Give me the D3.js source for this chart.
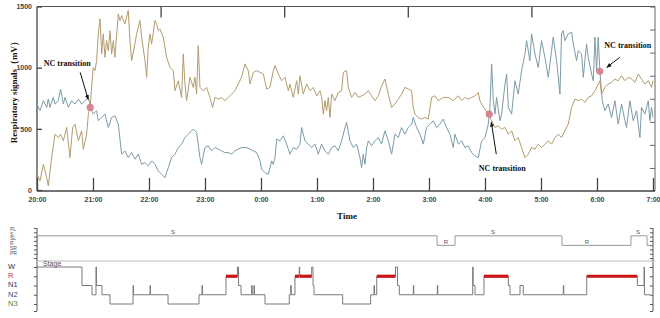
<!DOCTYPE html>
<html>
<head>
<meta charset="utf-8">
<script src="https://cdn.jsdelivr.net/npm/d3@7"></script>
<style>
  body { margin: 0; background: #fff; }
  svg { display: block; }
</style>
</head>
<body>
<div id="vis"></div>
<script>
////////// data //////////
// minutes after 20:00 and signal (mV)
var blueTime = [0,3.2,6.8,10.4,12.1,13.9,17.5,19.3,22.8,25.3,28.2,30,33.6,37.1,40.7,44.3,47.8,51.4,55,57.5,60.3,63.9,65.7,69.3,72.8,76.4,80,83.5,87.1,90.7,94.2,97.8,101.4,105,108.5,112.1,115.7,119.2,122.8,126.4,129.9,133.5,137.1,140.7,144.2,147.8,151.4,154.9,158.5,162.1,167.4,171,174.6,176.4,179.9,183.5,187.1,190.6,194.2,197.8,201.3,204.9,208.5,212.1,215.6,219.2,224.6,228.2,231.8,235.4,238.9,240.7,244.3,247.9,249.6,251.4,253.2,255,256.8,260.3,263.9,267.5,271,274.6,278.2,281.8,283.5,287.1,290.7,294.3,297.8,301.4,305,308.5,312.1,315.7,319.2,322.8,326.4,330,331.7,335.3,338.9,342.5,346,347.8,349.6,351.4,353.2,355,358.5,362.1,365.7,369.2,372.8,376.4,380,383.5,387.1,390.6,394.2,397.8,401.4,403.1,406.7,410.3,413.9,417.4,421,424.6,428.1,431.7,435.3,438.8,442.4,446,447.8,451.4,455,458.5,462.1,465.7,469.2,472.8,476.4,480,483.5,485.3,487.1,488.9,490.7,492.4,496,497.8,501.4,503.2,505,508.5,512.1,515.6,519.2,522.8,524.6,528.1,529.9,533.5,537,540.6,544.2,547.8,551.3,553.1,556.7,560.3,562,563.8,565.6,569.2,572.8,574.6,578.1,579.9,583.5,585.3,588.8,590.6,594.2,596,597.8,599.5,601.3,603.1,605.6,608.5,612,615.6,619.2,622.7,626.3,629.9,631.7,635.2,638.8,642.4,646,647.7,651.3,654.9,656.7,658.4,660];
var blueVal = [702,648,730,675,743,675,757,702,730,825,702,757,675,730,702,743,702,730,757,675,620,648,566,593,620,511,593,607,538,293,320,265,306,252,293,210,224,197,238,210,156,128,101,183,265,293,347,375,429,456,497,470,265,210,347,361,320,347,334,320,306,306,293,320,334,347,347,334,320,306,238,170,142,128,183,238,210,265,415,402,443,375,293,347,334,375,511,402,375,347,375,293,375,320,293,347,361,320,402,511,552,402,347,375,265,183,293,210,347,402,361,402,429,375,484,402,293,456,429,511,456,511,538,593,511,456,375,511,538,566,511,538,580,511,456,347,456,375,402,347,361,306,279,265,402,429,538,675,1030,730,620,757,566,620,866,948,675,620,893,784,975,1112,1221,1057,1276,1112,1002,1221,1085,921,1139,1249,1057,784,1276,1303,1221,1276,1290,1194,1057,1139,1112,921,1194,1085,948,893,1249,975,1249,970,730,648,702,593,730,538,702,566,511,730,566,648,429,675,620,730,566,675,593];

var tanTime = [0,3.2,6.8,10.4,12.1,15.7,19.3,22.8,25.3,28.2,31.8,35.3,38.2,40.7,44.3,47.8,49.6,53.2,55,57,58.5,60.3,62.1,63.9,65.7,67.5,69.3,71,72.8,74.6,76.4,78.2,80,81.8,83.5,87.1,88.9,90.7,94.2,97.8,99.6,101.4,104.9,106.7,110.3,112.1,115.7,117.5,119.2,121,122.8,126.4,128.2,129.9,131.7,135.3,138.9,142.4,146,147.8,151.4,154.9,156.7,158.5,160.3,163.9,167.4,169.2,171,172.8,174.6,178.1,181.7,185.3,188.1,190.6,194.2,197.8,201.3,204.9,208.5,212.1,215.6,219.2,222.8,226.4,228.2,231.8,235.4,238.9,242.5,246.1,249.6,253.2,255,258.6,262.1,265.7,269.3,271,274.6,278.2,280,281.8,285.3,288.9,292.5,296.1,299.6,303.2,305,306.8,308.5,310.3,312.1,313.9,315.7,319.2,322.8,326.4,328.2,331.7,333.5,337.1,340.7,344.2,347.8,351.4,355,358.5,362.1,365.7,369.2,372.8,376.4,379.9,383.5,387.1,390.6,394.2,397.8,401.4,403.1,404.9,408.5,412.1,415.6,419.2,422.8,426.3,429.9,435.3,440.6,446,451.4,455,458.5,462.1,465.7,469.2,472.8,474.6,476.4,480,483.5,487.1,490.7,494.2,497.8,501.4,505,508.5,512.1,515.6,519.2,522.8,526.3,529.9,533.5,537,540.6,544.2,547.8,551.3,554.9,558.5,562,565.6,569.2,572.8,576.3,579.9,583.5,587,590.6,594.2,597.8,601.3,603.1,604.9,608.5,612,615.6,619.2,622.7,626.3,629.9,633.4,637,640.6,644.2,647.7,651.3,654.9,658.4,660];
var tanVal = [128,74,210,101,33,265,456,429,456,402,511,265,511,538,402,484,333,456,620,675,839,1002,975,1057,1276,1399,1112,1276,1085,1221,1139,1303,1112,1221,1085,1440,1385,1426,1358,1467,1221,1057,1194,1276,1385,1249,1057,921,1167,1276,1194,1385,1358,1303,1317,1249,1085,1002,975,811,893,757,1112,866,730,921,839,921,784,1180,839,811,839,757,675,757,743,757,730,757,784,811,866,921,1030,975,866,962,975,962,948,825,839,975,1016,948,893,921,811,866,757,893,784,934,784,866,811,839,770,811,757,620,730,648,757,593,784,730,798,811,962,975,839,757,798,757,770,784,811,770,730,770,852,907,784,675,702,743,784,839,825,811,675,620,593,580,593,580,757,770,730,757,757,730,770,730,757,743,757,770,798,730,702,661,620,566,511,525,497,511,456,484,402,429,347,265,293,347,334,375,347,375,402,375,429,456,429,484,538,675,743,730,743,716,757,770,811,866,893,784,839,866,880,907,893,934,893,921,907,880,948,907,866,893,839,893];

var ncTime = [57, 484.6, 603];
var ncVal = [675, 620, 970];
var yTicks = [0, 500, 1000, 1500];

// hypnogram
var stateNames = ["PL", "S", "SL", "R", "SR", "PR"];
var stateTime = [0, 0.6, 428.6, 447.9, 562.5, 636.4, 653.6, 656.8];
var stateVal = ["PR", "S", "R", "S", "R", "S", "R", "R"];
var stateLabelTime = [145.7, 438.2, 488.6, 589.3, 644];
var stateLabelText = ["S", "R", "S", "R", "S"];

var stageNames = ["W", "R", "N1", "N2", "N3"];
var stageTime = [0,48.2,58.9,63.2,63.7,69.6,78.2,102.9,103.4,121.1,121.6,140.4,173.6,176.8,177.3,202.5,214.8,215.9,218.6,230,230.6,232.5,233,244.3,270.3,271.8,272.4,276.4,281,281.5,294.3,295.7,296.8,327.5,357.5,361.1,361.6,364,384.1,386.3,388.2,403.2,403.7,428.9,429.4,466.8,467.3,469.3,478.9,505,506.8,517.5,521,563.9,564.4,589,643.2,650.4,650.9,656.8];
var stageVal = ["W","N1","N2","W","N1","N2","N3","N1","N2","N1","N2","N3","N2","N1","N2","R","W","N1","N2","N1","N2","N1","N2","N3","N2","N1","N2","R","W","R","W","N1","N2","N3","N2","N1","N2","R","W","N1","N2","N1","N2","N1","N2","W","N1","N2","R","N1","N2","N1","N2","N1","N2","R","N1","W","N2","N2"];
var stageColor = { W: "#333", R: "#b8324a", N1: "#1f2f6e", N2: "#2c4a9a", N3: "#3f8a3f" };

////////// setup //////////
var width = 660, height = 318;
var svg = d3.select("#vis").append("svg")
  .attr("width", width)
  .attr("height", height)
  .style("font-family", "'Liberation Sans', Arial, sans-serif");

var t0 = new Date(2020, 0, 1, 20, 0);
var toDate = function(m) { return new Date(+t0 + m * 60000); };

var x = d3.scaleTime()
  .domain([t0, toDate(660)])
  .range([37, 653]);
var y = d3.scaleLinear()
  .domain([0, 1500])
  .range([190, 6.5]);

var plotTop = 6.5, plotBottom = 191, plotRight = 655;

////////// top chart //////////
var chart = svg.append("g");

// frame
chart.append("line")
  .attr("x1", 37).attr("x2", plotRight).attr("y1", plotTop).attr("y2", plotTop)
  .attr("stroke", "#555").attr("stroke-width", 1.2);
chart.append("line")
  .attr("x1", plotRight).attr("x2", plotRight).attr("y1", plotTop).attr("y2", plotBottom)
  .attr("stroke", "#666").attr("stroke-width", 1);

var xAxis = chart.append("g")
  .attr("transform", "translate(0," + plotBottom + ")")
  .call(d3.axisBottom(x)
    .ticks(d3.timeHour.every(1))
    .tickFormat(d3.timeFormat("%-H:%M"))
    .tickSizeInner(-13)
    .tickSizeOuter(0)
    .tickPadding(6));
xAxis.select(".domain").attr("stroke", "#444").attr("stroke-width", 1.5)
  .attr("d", "M37,0H" + plotRight);
xAxis.selectAll(".tick line").attr("stroke", "#444").attr("stroke-width", 1.3);
xAxis.selectAll(".tick text")
  .style("font-size", "7px").style("font-weight", "bold").attr("fill", "#444");

var yAxis = chart.append("g")
  .attr("transform", "translate(37,0)")
  .call(d3.axisLeft(y)
    .tickValues(yTicks)
    .tickFormat(d3.format("d"))
    .tickSizeInner(-5)
    .tickSizeOuter(0)
    .tickPadding(5));
yAxis.select(".domain").attr("stroke", "#444").attr("stroke-width", 1.3)
  .attr("d", "M0," + plotTop + "V" + plotBottom);
yAxis.selectAll(".tick line").attr("stroke", "#444").attr("stroke-width", 1.3);
yAxis.selectAll(".tick text")
  .style("font-size", "7px").style("font-weight", "bold").attr("fill", "#444");

// unlabelled secondary ticks on top and right
var xTop = d3.scaleLinear().domain([0, 5]).range([37, plotRight]);
chart.append("g")
  .attr("transform", "translate(0," + plotTop + ")")
  .call(d3.axisTop(xTop).ticks(5).tickSizeInner(-11).tickSizeOuter(0).tickFormat(""))
  .call(function(g) {
    g.select(".domain").remove();
    g.selectAll(".tick line").attr("stroke", "#444").attr("stroke-width", 1.3);
    g.selectAll(".tick").filter(function(d) { return d == 0 || d == 5; }).remove();
  });
var yRight = d3.scaleLinear().domain([0, 8]).range([plotBottom, plotTop]);
chart.append("g")
  .attr("transform", "translate(" + plotRight + ",0)")
  .call(d3.axisRight(yRight).ticks(8).tickSizeInner(-5).tickSizeOuter(0).tickFormat(""))
  .call(function(g) {
    g.select(".domain").remove();
    g.selectAll(".tick line").attr("stroke", "#666");
  });

// signals
var line = d3.line()
  .x(function(d) { return x(toDate(d[0])); })
  .y(function(d) { return y(d[1]); });

var tanData = tanTime.map(function(t, i) { return [t, tanVal[i]]; });
var blueData = blueTime.map(function(t, i) { return [t, blueVal[i]]; });

chart.append("path")
  .datum(blueData)
  .attr("d", line)
  .attr("fill", "none")
  .attr("stroke", "#7b9ba8")
  .attr("stroke-width", 1)
  .attr("stroke-linejoin", "round");
chart.append("path")
  .datum(tanData)
  .attr("d", line)
  .attr("fill", "none")
  .attr("stroke", "#b39c6e")
  .attr("stroke-width", 1)
  .attr("stroke-linejoin", "round");

// NC transitions
var defs = svg.append("defs");
defs.append("marker")
  .attr("id", "arrow")
  .attr("viewBox", "0 0 10 10")
  .attr("refX", 9).attr("refY", 5)
  .attr("markerWidth", 5).attr("markerHeight", 5)
  .attr("orient", "auto")
  .append("path")
  .attr("d", "M0,1L10,5L0,9Z")
  .attr("fill", "#111");

// text / arrow offsets relative to each marker
var ncNotes = [
  { tx: -23, ty: -43, ax1: -10, ay1: -35, ax2: -2, ay2: -8 },
  { tx: 13, ty: 55, ax1: 7, ay1: 40, ax2: 2, ay2: 8 },
  { tx: 28, ty: -25, ax1: 20, ay1: -14, ax2: 7, ay2: -4 }
];

ncTime.forEach(function(t, i) {
  var cx = x(toDate(t)), cy = y(ncVal[i]), n = ncNotes[i];
  chart.append("circle")
    .attr("cx", cx).attr("cy", cy).attr("r", 3.6)
    .attr("fill", "#d97a8a").attr("opacity", 0.9);
  chart.append("line")
    .attr("x1", cx + n.ax1).attr("y1", cy + n.ay1)
    .attr("x2", cx + n.ax2).attr("y2", cy + n.ay2)
    .attr("stroke", "#111").attr("stroke-width", 1)
    .attr("marker-end", "url(#arrow)");
  chart.append("text")
    .attr("x", cx + n.tx).attr("y", cy + n.ty)
    .attr("text-anchor", "middle")
    .attr("dominant-baseline", "middle")
    .style("font-family", "'Liberation Serif', 'Times New Roman', serif")
    .style("font-weight", "bold")
    .style("font-size", "8px")
    .attr("fill", "#111")
    .text("NC transition");
});

// axis titles
chart.append("text")
  .attr("transform", "translate(15,90) rotate(-90)")
  .attr("text-anchor", "middle")
  .attr("dominant-baseline", "middle")
  .style("font-family", "'Liberation Serif', 'Times New Roman', serif")
  .style("font-weight", "bold")
  .style("font-size", "9px")
  .attr("fill", "#111")
  .text("Respiratory signals（mV）");
chart.append("text")
  .attr("x", 347).attr("y", 219)
  .attr("text-anchor", "middle")
  .style("font-family", "'Liberation Serif', 'Times New Roman', serif")
  .style("font-weight", "bold")
  .style("font-size", "9px")
  .attr("fill", "#111")
  .text("Time");

////////// hypnogram //////////
var hyp = svg.append("g");
var yState = d3.scalePoint().domain(stateNames).range([231, 255]);
var yStage = d3.scalePoint().domain(stageNames).range([267, 304]);

// side axes
[37, 653].forEach(function(ax, k) {
  hyp.append("line")
    .attr("x1", ax).attr("x2", ax).attr("y1", 228).attr("y2", 311)
    .attr("stroke", "#555").attr("stroke-width", 1);
  var mk = k == 0 ? d3.axisLeft : d3.axisRight;
  var sz = k == 0 ? 3 : -3;
  var ticks = d3.range(228, 260, 4.3).concat(stageNames.map(yStage)).concat([311]);
  hyp.append("g")
    .attr("transform", "translate(" + ax + ",0)")
    .call(mk(d3.scaleIdentity()).tickValues(ticks).tickSizeInner(sz).tickSizeOuter(0).tickFormat(""))
    .call(function(g) {
      g.select(".domain").remove();
      g.selectAll(".tick line").attr("stroke", "#555");
    });
});

// divider between state and stage rows
hyp.append("line")
  .attr("x1", 37).attr("x2", 655).attr("y1", 261).attr("y2", 261)
  .attr("stroke", "#bbb").attr("stroke-width", 1);

// state labels
hyp.selectAll(".state-lab")
  .data(stateNames)
  .enter().append("text")
  .attr("class", "state-lab")
  .attr("x", 10).attr("y", function(d) { return yState(d) - 1.5; })
  .attr("dominant-baseline", "middle")
  .style("font-size", "5px")
  .attr("fill", "#555")
  .text(function(d) { return d; });

hyp.selectAll(".stage-lab")
  .data(stageNames)
  .enter().append("text")
  .attr("class", "stage-lab")
  .attr("x", 8).attr("y", function(d) { return yStage(d); })
  .attr("dominant-baseline", "middle")
  .style("font-size", "7.5px")
  .attr("fill", function(d) { return stageColor[d]; })
  .text(function(d) { return d; });

var stateLine = d3.line()
  .x(function(d) { return x(toDate(d[0])); })
  .y(function(d) { return yState(d[1]); })
  .curve(d3.curveStepAfter);
hyp.append("path")
  .datum(stateTime.map(function(t, i) { return [t, stateVal[i]]; }))
  .attr("d", stateLine)
  .attr("fill", "none")
  .attr("stroke", "#999")
  .attr("stroke-width", 1);

hyp.selectAll(".state-note")
  .data(stateLabelTime)
  .enter().append("text")
  .attr("class", "state-note")
  .attr("x", function(d) { return x(toDate(d)); })
  .attr("y", function(d, i) { return yState(stateLabelText[i]) - 1.5; })
  .attr("text-anchor", "middle")
  .style("font-size", "6px")
  .attr("fill", "#555")
  .text(function(d, i) { return stateLabelText[i]; });

hyp.append("text")
  .attr("x", 43).attr("y", 266)
  .style("font-size", "7px")
  .attr("fill", "#555")
  .text("Stage");

var stageLine = d3.line()
  .x(function(d) { return x(toDate(d[0])); })
  .y(function(d) { return yStage(d[1]); })
  .curve(d3.curveStepAfter);
hyp.append("path")
  .datum(stageTime.map(function(t, i) { return [t, stageVal[i]]; }))
  .attr("d", stageLine)
  .attr("fill", "none")
  .attr("stroke", "#7a7a7a")
  .attr("stroke-width", 1);

// REM periods in red
var remSegs = [];
stageVal.forEach(function(s, i) {
  if (s == "R" && i < stageTime.length - 1) remSegs.push([stageTime[i], stageTime[i + 1]]);
});
hyp.selectAll(".rem")
  .data(remSegs)
  .enter().append("line")
  .attr("class", "rem")
  .attr("x1", function(d) { return x(toDate(d[0])); })
  .attr("x2", function(d) { return x(toDate(d[1])); })
  .attr("y1", yStage("R")).attr("y2", yStage("R"))
  .attr("stroke", "#cc1414")
  .attr("stroke-width", 3.2);
</script>
</body>
</html>
